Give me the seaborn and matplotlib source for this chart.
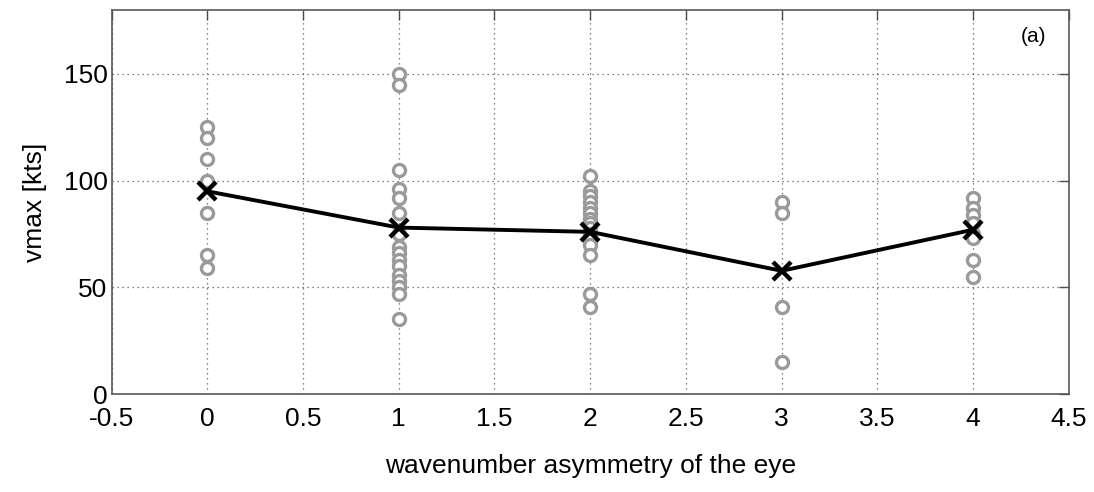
import numpy as np
import pandas as pd
import matplotlib
matplotlib.use("Agg")
import matplotlib.pyplot as plt
import seaborn as sns

# vmax of each case, grouped by wavenumber asymmetry of the eye
wavenumbers = [0, 1, 2, 3, 4]
vmax_wn0 = [125, 120, 110, 100, 85, 65, 59]
vmax_wn1 = [150, 145, 105, 96, 92, 85, 75, 69, 66, 63, 60, 56, 53, 50, 47, 35]
vmax_wn2 = [102, 95, 93, 90, 87, 85, 82, 80, 78, 75, 72, 70, 65, 47, 41]
vmax_wn3 = [90, 85, 41, 15]
vmax_wn4 = [92, 87, 84, 80, 75, 73, 63, 55]
vmax_mean = [95, 78, 76, 57.75, 77]

xticks = [-0.5, 0, 0.5, 1, 1.5, 2, 2.5, 3, 3.5, 4, 4.5]
yticks = [0, 50, 100, 150]

groups = [vmax_wn0, vmax_wn1, vmax_wn2, vmax_wn3, vmax_wn4]
df = pd.DataFrame({
    "wn": np.concatenate([[w] * len(g) for w, g in zip(wavenumbers, groups)]),
    "vmax": np.concatenate(groups),
})
df_mean = pd.DataFrame({"wn": wavenumbers, "vmax": vmax_mean})

sns.set_style("white")
plt.rcParams["font.family"] = ["Liberation Sans", "DejaVu Sans"]
plt.rcParams["text.color"] = "black"
plt.rcParams["axes.labelcolor"] = "black"

fig = plt.figure(figsize=(10.94, 4.92), dpi=100)
ax = fig.add_axes([0.102, 0.199, 0.875, 0.781])

sns.scatterplot(data=df, x="wn", y="vmax", ax=ax, marker="o", s=75,
                facecolor="white", edgecolor="#9a9a9a", linewidth=2.4, zorder=3)
sns.lineplot(data=df_mean, x="wn", y="vmax", ax=ax, color="black", lw=2.8,
             marker="x", markersize=13, markeredgewidth=3.2,
             markeredgecolor="black", zorder=4)

ax.set_xlim(-0.5, 4.5)
ax.set_ylim(0, 180)
ax.set_xticks(xticks)
ax.set_xticklabels(["-0.5", "0", "0.5", "1", "1.5", "2", "2.5", "3", "3.5", "4", "4.5"])
ax.set_yticks(yticks)
ax.grid(True, linestyle=(0, (1, 3)), color="0.35", lw=0.9, zorder=0)
ax.set_axisbelow(True)

ax.tick_params(direction="in", length=7, width=1, color="0.3",
               top=True, right=True, labelsize=19, labelcolor="black")
ax.tick_params(axis="x", pad=9)
ax.tick_params(axis="y", pad=3)
for sp in ax.spines.values():
    sp.set_color("0.35")
    sp.set_linewidth(1.2)

ax.set_xlabel("wavenumber asymmetry of the eye", fontsize=19, labelpad=17)
ax.set_ylabel("vmax [kts]", fontsize=19, labelpad=12)
ax.text(0.963, 0.93, "(a)", transform=ax.transAxes, fontsize=15,
        ha="center", va="center")

fig.savefig("out.png", dpi=100)
